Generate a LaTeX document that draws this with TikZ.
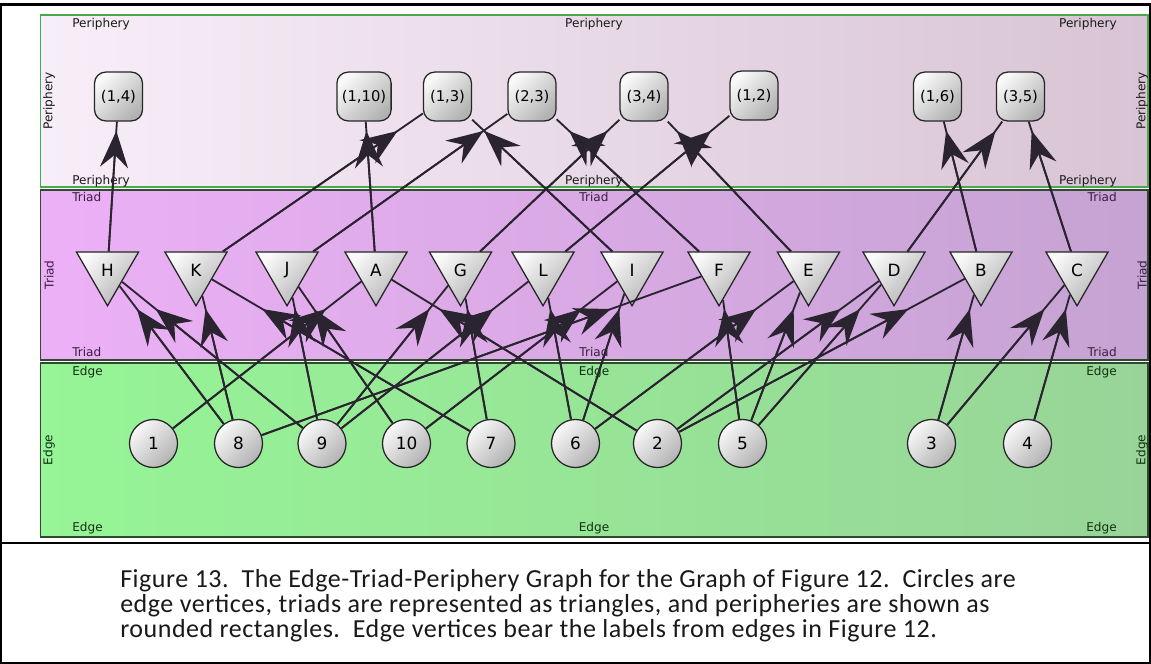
\documentclass[tikz,border=0pt]{standalone}
\usepackage{fontspec}
\setmainfont{DejaVu Sans}
\newfontfamily\capfont[LetterSpace=2.0]{Carlito}
\usetikzlibrary{arrows.meta,shapes.geometric}

\definecolor{linkcol}{HTML}{2A2430}
\definecolor{perleft}{HTML}{F8EEF8}
\definecolor{perright}{HTML}{D8C4D4}
\definecolor{perline}{HTML}{4AA84A}
\definecolor{trileft}{HTML}{ECB0F6}
\definecolor{triright}{HTML}{C5A3D2}
\definecolor{triline}{HTML}{2F4A2F}
\definecolor{triText}{HTML}{3B1E40}
\definecolor{edgeleft}{HTML}{96F596}
\definecolor{edgeright}{HTML}{98D498}
\definecolor{edgeline}{HTML}{2F4A2F}
\definecolor{edgeText}{HTML}{123012}

\tikzset{
  lane/.style={line width=0.9pt},
  lanetag/.style={font=\fontsize{8.6}{10}\selectfont, inner sep=0pt},
  periphery/.style={draw=black!85, line width=0.9pt, rounded corners=0.28cm,
    minimum width=1.2cm, minimum height=1.22cm, inner sep=3.5pt,
    top color=gray!5, bottom color=gray!60, shading angle=45,
    font=\fontsize{10.5}{12}\selectfont},
  triad/.style={draw=black!85, line width=0.9pt, regular polygon,
    regular polygon sides=3, shape border rotate=180, minimum size=1.79cm,
    inner sep=0pt, top color=gray!5, bottom color=gray!60, shading angle=45,
    font=\fontsize{12}{14}\selectfont},
  edgevx/.style={draw=black!85, line width=0.9pt, circle, minimum size=1.2cm,
    inner sep=0pt, top color=gray!5, bottom color=gray!60, shading angle=45,
    font=\fontsize{12}{14}\selectfont},
  link/.style={draw=linkcol, line width=1.3pt},
  linkhead/.style={-{Stealth[length=26pt,width=20pt,inset=9pt]}},
  frame/.style={line width=1.6pt},
  captext/.style={font=\capfont\fontsize{18.5}{21}\selectfont, inner sep=0pt,
    text=black!90}
}

% line to the shape, arrow tip where it enters the layer
\newcommand\feed[3]{%
  \draw[link] (#1) -- (#2);
  \draw[link,linkhead] (#1) -- (intersection of #1--#2 and #3);
}

% the eight tags of one lane: text, top, bottom, middle, colour
\newcommand\lanetags[5]{%
  \node[lanetag,text=#5,anchor=base west] (#1-tl) at (72,#2) {#1};
  \node[lanetag,text=#5,anchor=base] (#1-tc) at (594,#2) {#1};
  \node[lanetag,text=#5,anchor=base east] (#1-tr) at (1117,#2) {#1};
  \node[lanetag,text=#5,anchor=base west] (#1-bl) at (72,#3) {#1};
  \node[lanetag,text=#5,anchor=base] (#1-bc) at (594,#3) {#1};
  \node[lanetag,text=#5,anchor=base east] (#1-br) at (1117,#3) {#1};
  \node[lanetag,text=#5,rotate=90] (#1-l) at (49,#4) {#1};
  \node[lanetag,text=#5,rotate=90] (#1-r) at (1142,#4) {#1};
}

\begin{document}
\begin{tikzpicture}[x=0.025cm,y=-0.025cm]
\useasboundingbox (0,0) rectangle (1151,664);

\draw[frame] (1,4.5) rectangle (1150,663);
\draw[frame] (1,543) -- (1150,543);

% lanes
\shadedraw[lane,draw=perline,left color=perleft,right color=perright] (40.5,15) rectangle (1148,187);
\shadedraw[lane,draw=triline,left color=trileft,right color=triright] (40.5,190) rectangle (1148,360);
\shadedraw[lane,draw=edgeline,left color=edgeleft,right color=edgeright] (40.5,363) rectangle (1148,537);

\lanetags{Periphery}{27}{184}{101}{black!90}
\lanetags{Triad}{201.5}{356.5}{275}{triText}
\lanetags{Edge}{375.5}{531.5}{450}{edgeText}

\coordinate (pl) at (0,131);
\coordinate (pr) at (1151,131);
\coordinate (tl) at (0,309);
\coordinate (tr) at (1151,309);

% peripheries
\node[periphery] (p14) at (118.5,96.5) {(1,4)};
\node[periphery] (p110) at (364,96.5) {(1,10)};
\node[periphery] (p13) at (447.5,96.5) {(1,3)};
\node[periphery] (p23) at (532,96.5) {(2,3)};
\node[periphery] (p34) at (644,96.5) {(3,4)};
\node[periphery] (p12) at (754,95.5) {(1,2)};
\node[periphery] (p16) at (937.5,96.5) {(1,6)};
\node[periphery] (p35) at (1020.5,96.5) {(3,5)};

% triads
\node[triad] (H) at (107.5,270) {H};
\node[triad] (K) at (196,270) {K};
\node[triad] (J) at (287,270) {J};
\node[triad] (A) at (376,270) {A};
\node[triad] (G) at (460.5,270) {G};
\node[triad] (L) at (543,270) {L};
\node[triad] (I) at (632,270) {I};
\node[triad] (F) at (719,270) {F};
\node[triad] (E) at (808.5,270) {E};
\node[triad] (D) at (894,270) {D};
\node[triad] (B) at (981,270) {B};
\node[triad] (C) at (1077,270) {C};

% edge vertices
\node[edgevx] (e1) at (153.5,443.5) {1};
\node[edgevx] (e8) at (238.5,443.5) {8};
\node[edgevx] (e9) at (322,443.5) {9};
\node[edgevx] (e10) at (406.5,443.5) {10};
\node[edgevx] (e7) at (491,443.5) {7};
\node[edgevx] (e6) at (575.5,443.5) {6};
\node[edgevx] (e2) at (657.5,443.5) {2};
\node[edgevx] (e5) at (742.5,443.5) {5};
\node[edgevx] (e3) at (931.5,443.5) {3};
\node[edgevx] (e4) at (1027.5,443.5) {4};

% edge -> triad
\feed{e8}{H}{tl--tr}
\feed{e9}{H}{tl--tr}
\feed{e8}{K}{tl--tr}
\feed{e7}{K}{tl--tr}
\feed{e10}{J}{tl--tr}
\feed{e9}{J}{tl--tr}
\feed{e1}{A}{tl--tr}
\feed{e2}{A}{tl--tr}
\feed{e9}{G}{tl--tr}
\feed{e7}{G}{tl--tr}
\feed{e6}{L}{tl--tr}
\feed{e9}{L}{tl--tr}
\feed{e6}{I}{tl--tr}
\feed{e10}{I}{tl--tr}
\feed{e5}{F}{tl--tr}
\feed{e8}{F}{tl--tr}
\feed{e6}{E}{tl--tr}
\feed{e5}{E}{tl--tr}
\feed{e2}{D}{tl--tr}
\feed{e5}{D}{tl--tr}
\feed{e3}{B}{tl--tr}
\feed{e2}{B}{tl--tr}
\feed{e3}{C}{tl--tr}
\feed{e4}{C}{tl--tr}

% triad -> periphery
\feed{H}{p14}{pl--pr}
\feed{K}{p13}{pl--pr}
\feed{J}{p23}{pl--pr}
\feed{A}{p110}{pl--pr}
\feed{G}{p34}{pl--pr}
\feed{L}{p12}{pl--pr}
\feed{I}{p13}{pl--pr}
\feed{F}{p23}{pl--pr}
\feed{E}{p34}{pl--pr}
\feed{D}{p35}{pl--pr}
\feed{B}{p16}{pl--pr}
\feed{C}{p35}{pl--pr}

% caption
\node[captext,anchor=base west] (cap1) at (120,587) {Figure 13.\ \ The Edge-Triad-Periphery Graph for the Graph of Figure 12.\ \ Circles are};
\node[captext,anchor=base west] (cap2) at (120,612) {edge vertices, triads are represented as triangles, and peripheries are shown as};
\node[captext,anchor=base west] (cap3) at (120,637) {rounded rectangles.\ \ Edge vertices bear the labels from edges in Figure 12.};
\end{tikzpicture}
\end{document}
